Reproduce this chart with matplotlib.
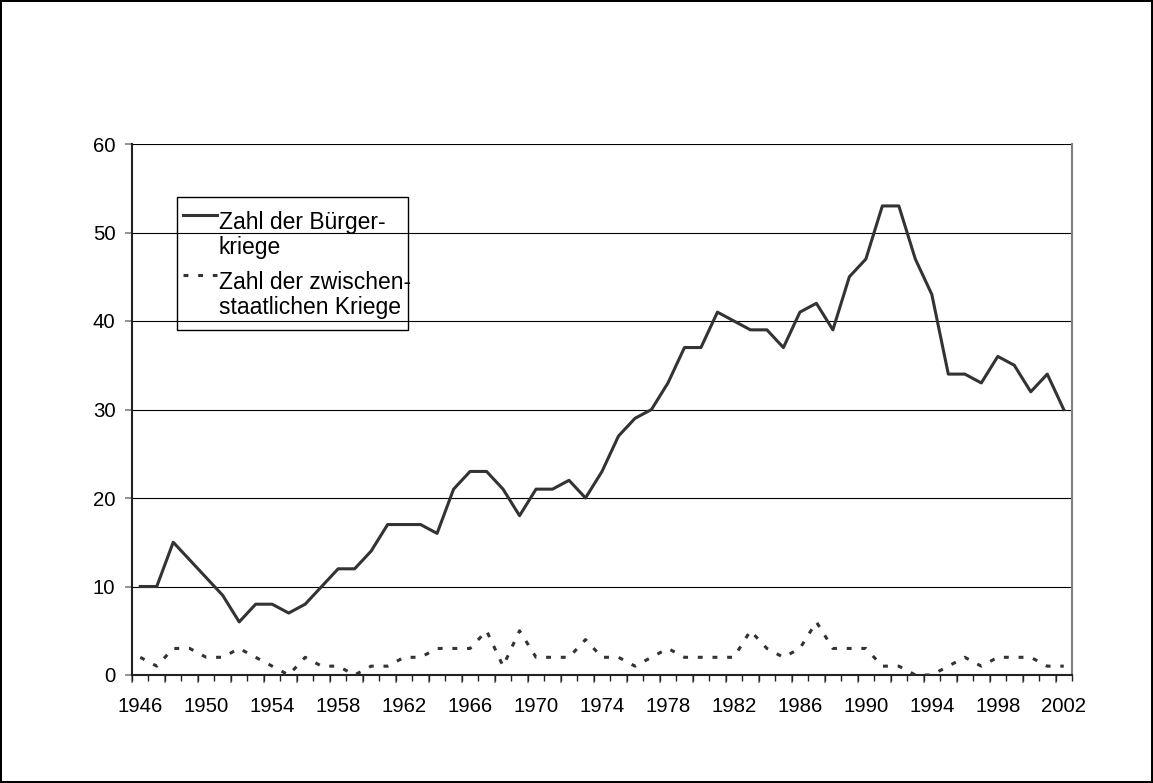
import numpy as np
import matplotlib
matplotlib.use('Agg')
import matplotlib.pyplot as plt
from matplotlib.patches import Rectangle

plt.rcParams['font.family'] = ['Liberation Sans', 'DejaVu Sans']

years = list(range(1946, 2003))
buergerkriege = [10, 10, 15, 13, 11, 9, 6, 8, 8, 7, 8, 10, 12, 12, 14, 17, 17, 17, 16, 21,
                 23, 23, 21, 18, 21, 21, 22, 20, 23, 27, 29, 30, 33, 37, 37, 41, 40, 39, 39, 37,
                 41, 42, 39, 45, 47, 53, 53, 47, 43, 34, 34, 33, 36, 35, 32, 34, 30]
zwischenstaatlich = [2, 1, 3, 3, 2, 2, 3, 2, 1, 0, 2, 1, 1, 0, 1, 1, 2, 2, 3, 3,
                     3, 5, 1, 5, 2, 2, 2, 4, 2, 2, 1, 2, 3, 2, 2, 2, 2, 5, 3, 2,
                     3, 6, 3, 3, 3, 1, 1, 0, 0, 1, 2, 1, 2, 2, 2, 1, 1]
label_buerger = 'Zahl der Bürger-\nkriege'
label_zwischen = 'Zahl der zwischen-\nstaatlichen Kriege'

x = np.arange(len(years))

W, H = 1153, 783
fig = plt.figure(figsize=(W / 100, H / 100), dpi=100)
fig.patch.set_edgecolor('black')
fig.patch.set_linewidth(1.5)
ax = fig.add_axes([132 / W, 108 / H, 940 / W, 531 / H])

for v in range(10, 70, 10):
    ax.axhline(v, color='black', lw=0.8, zorder=1)

ax.plot(x, buergerkriege, color='#333333', lw=2.2, label=label_buerger, zorder=3)
ax.plot(x, zwischenstaatlich, color='#333333', lw=2.2, dashes=(1.6, 3.2),
        label=label_zwischen, zorder=3)

ax.set_xlim(-0.5, len(years) - 0.5)
ax.set_ylim(0, 60)
ax.set_yticks(range(0, 70, 10))
ax.tick_params(axis='y', length=5, width=1.2, color='#808080', labelsize=14.7, pad=7)

ax.set_xticks(x[::4])
ax.set_xticklabels([str(y) for y in years[::4]])
ax.tick_params(axis='x', which='major', length=0, labelsize=14.7, pad=16)
ax.set_xticks(np.arange(-0.5, len(years), 1), minor=True)
ax.tick_params(axis='x', which='minor', length=4, width=1, color='#222222')

sec = ax.secondary_xaxis('bottom')
sec.set_xticks(np.arange(-0.5, len(years), 2))
sec.set_xticklabels([])
sec.tick_params(length=6, width=1.2, color='#808080')
sec.spines['bottom'].set_visible(False)

ax.spines['top'].set_visible(False)
ax.spines['right'].set_color('#808080')
ax.spines['right'].set_linewidth(1.5)
ax.spines['left'].set_color('#222222')
ax.spines['left'].set_linewidth(1.5)
ax.spines['bottom'].set_color('#222222')
ax.spines['bottom'].set_linewidth(1.5)

leg = fig.legend(loc='upper left', bbox_to_anchor=(183 / W, 1 - 211 / H), fontsize=16.5,
                 frameon=False, handlelength=1.5, handletextpad=0.05,
                 labelspacing=0.55, borderpad=0, borderaxespad=0)
for t in leg.get_texts():
    t.set_linespacing(1.1)
# Linien im Legendenkasten auf Hoehe der ersten Textzeile
for line in leg.get_lines():
    line.set_ydata(np.asarray(line.get_ydata()) + 15)

# Rahmen um die Legende (Excel-Stil, links schmal, oben/unten mehr Abstand)
fig.canvas.draw()
bb = leg.get_window_extent()
x0, x1 = bb.x0 - 6, bb.x1 - 3
y0, y1 = 783 - 330, 783 - 197
fig.patches.append(Rectangle((x0 / W, y0 / H), (x1 - x0) / W, (y1 - y0) / H,
                             transform=fig.transFigure, fill=False,
                             edgecolor='black', lw=1, zorder=5))

fig.savefig('out.png', dpi=100)
